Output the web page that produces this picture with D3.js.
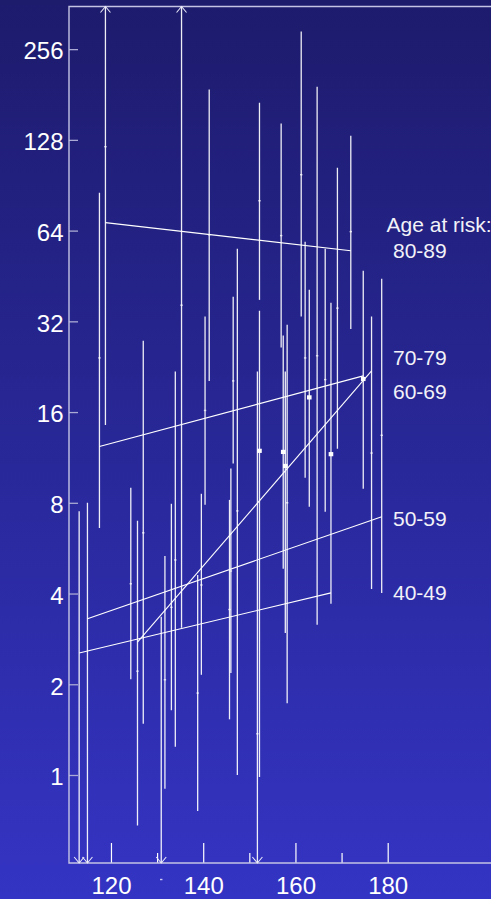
<!DOCTYPE html>
<html><head><meta charset="utf-8">
<script src="https://cdn.jsdelivr.net/npm/d3@7"></script>
<style>html,body{margin:0;padding:0;overflow:hidden;background:#2a2a9a}</style>
</head><body>
<svg id="chart" width="491" height="899"></svg>
<script>
// ---- data ----
const barX    = [113.1,114.9,117.5,118.8,124.3,125.75,127.0,130.9,131.7,133.1,133.95,135.3,138.8,139.6,140.4,141.3,145.7,146.0,146.5,147.4,151.75,152.2,152.2,156.9,157.35,157.8,158.2,161.25,162.1,163.0,164.7,166.45,167.7,169.1,172.0,174.7,176.5,178.7];
const barLow  = [0.3,0.3,6.6,14.5,2.08,0.68,1.48,0.06,0.9,1.64,1.24,3.08,0.76,2.15,7.88,20.3,1.53,2.18,10.8,1.0,0.09,37.7,0.985,26.2,4.83,2.96,1.73,33.2,9.68,7.76,3.15,7.47,3.70,12.1,30.2,8.9,4.14,4.02];
const barHigh = [7.5,8.0,85.5,1000,8.97,6.97,27.6,3.35,5.33,7.94,21.8,425,4.61,8.57,33.2,188,8.18,10.4,38.6,55.7,21.8,170,34.7,145,28.7,21.8,31.2,293,58.8,40.7,192,55.7,36.9,103.5,132,47.1,33.2,44.3];
const barEst  = [null,null,24.2,121.5,4.31,2.21,6.36,0.45,2.07,3.6,5.17,36.2,1.87,4.27,16.2,62,3.54,4.75,20.3,7.52,1.37,80.4,11.9,61.6,11.8,10.6,8.0,98.1,24.2,17.9,24.6,20.5,11.6,35.4,63.5,20.6,11.7,13.4];
const barLarge= [0,0,0,0,0,0,0,0,0,0,0,0,0,0,0,0,0,0,0,0,0,0,1,0,1,1,0,0,0,1,0,0,1,0,0,1,0,0];

const ageGroups = ["80-89","70-79","60-69","50-59","40-49"];
const fitX0 = [118.8,117.5,125.75,114.9,113.1];
const fitX1 = [172.0,174.7,176.5,178.7,167.7];
const fitY0 = [68.0,12.3,2.76,3.30,2.54];
const fitY1 = [54.9,21.1,21.9,7.19,4.02];

const legendTitle = "Age at risk:";
const yTicks = [1,2,4,8,16,32,64,128,256];
const xTicks = [120,140,160,180];
const xMinorTicks = [130,150,170];

// ---- drawing ----
const W = 491, H = 899;
const svg = d3.select("#chart");
const defs = svg.append("defs");
const grad = defs.append("linearGradient").attr("id","bg")
  .attr("x1",0).attr("y1",0).attr("x2",0).attr("y2",1);
grad.append("stop").attr("offset","0%").attr("stop-color","#1d1b6c");
grad.append("stop").attr("offset","100%").attr("stop-color","#3434c4");
svg.append("rect").attr("width",W).attr("height",H).attr("fill","url(#bg)");

const x = d3.scaleLinear().domain([110.9,202.4]).range([69,491]);
const y = d3.scaleLog().base(2).domain([Math.pow(2,-0.97),Math.pow(2,8.47)]).range([863,6.5]);
const [yMin,yMax] = y.domain();

const font = "'Liberation Sans', Arial, Helvetica, sans-serif";
const frameCol = "#c4c4e4";

// axes
const yAxis = d3.axisLeft(y).tickValues(yTicks).tickFormat(d3.format("d"))
  .tickSizeInner(-9).tickSizeOuter(0).tickPadding(5.5);
const gy = svg.append("g").attr("transform","translate(69,0)").call(yAxis);
gy.select(".domain").remove();
gy.selectAll(".tick line").attr("stroke","#aaaad4").attr("stroke-width",1.3);
gy.selectAll(".tick text").attr("fill","#ffffff").attr("font-size",24)
  .attr("font-family",font).attr("dy","0.41em");

const xAxis = d3.axisBottom(x).tickValues(xTicks).tickFormat(d3.format("d"))
  .tickSizeInner(-20).tickSizeOuter(0).tickPadding(14);
const gx = svg.append("g").attr("transform","translate(0,863)").call(xAxis);
gx.select(".domain").remove();
gx.selectAll(".tick line").attr("stroke","#ffffff").attr("stroke-width",1.2);
gx.selectAll(".tick text").attr("fill","#ffffff").attr("font-size",24).attr("font-family",font);

const xAxisMinor = d3.axisBottom(x).tickValues(xMinorTicks).tickFormat("")
  .tickSizeInner(-10).tickSizeOuter(0);
const gxm = svg.append("g").attr("transform","translate(0,863)").call(xAxisMinor);
gxm.select(".domain").remove();
gxm.selectAll(".tick line").attr("stroke","#ffffff").attr("stroke-width",1.2);

// frame
const frame = svg.append("g").attr("stroke",frameCol).attr("stroke-width",1.4).attr("fill","none");
frame.append("path").attr("d",`M${W+2},${y(yMax)}H${x.range()[0]}V${y(yMin)}H${W+2}`);

// bars
const bars = barX.map((v,i)=>({x:v,lo:barLow[i],hi:barHigh[i],est:barEst[i],large:barLarge[i]}));
const gb = svg.append("g");
gb.selectAll("line.bar").data(bars).join("line").attr("class","bar")
  .attr("x1",d=>x(d.x)).attr("x2",d=>x(d.x))
  .attr("y1",d=>y(Math.min(d.hi,yMax))).attr("y2",d=>y(Math.max(d.lo,yMin)))
  .attr("stroke","#ffffff").attr("stroke-opacity",0.92).attr("stroke-width",1.3);

// arrows for bars running off the scale
gb.selectAll("path.up").data(bars.filter(d=>d.hi>yMax)).join("path").attr("class","up")
  .attr("d",d=>{const cx=x(d.x),cy=y(yMax);return `M${cx-5},${cy+6}L${cx},${cy}L${cx+5},${cy+6}`;})
  .attr("fill","none").attr("stroke","#e8e8f8").attr("stroke-width",1.1);
gb.selectAll("path.down").data(bars.filter(d=>d.lo<yMin)).join("path").attr("class","down")
  .attr("d",d=>{const cx=x(d.x),cy=y(yMin);return `M${cx-5},${cy-6}L${cx},${cy}L${cx+5},${cy-6}`;})
  .attr("fill","none").attr("stroke","#e8e8f8").attr("stroke-width",1.1);

// point estimates
gb.selectAll("rect.est").data(bars.filter(d=>d.est!==null)).join("rect").attr("class","est")
  .attr("x",d=>x(d.x)-(d.large?2.3:1.2)).attr("y",d=>y(d.est)-(d.large?2.1:0.7))
  .attr("width",d=>d.large?4.6:2.4).attr("height",d=>d.large?4.2:1.4)
  .attr("fill","#ffffff").attr("fill-opacity",d=>d.large?1:0.75);

// fitted lines per age group
const fits = ageGroups.map((g,i)=>({g,x0:fitX0[i],x1:fitX1[i],y0:fitY0[i],y1:fitY1[i]}));
svg.append("g").selectAll("line").data(fits).join("line")
  .attr("x1",d=>x(d.x0)).attr("y1",d=>y(d.y0))
  .attr("x2",d=>x(d.x1)).attr("y2",d=>y(d.y1))
  .attr("stroke","#ffffff").attr("stroke-width",1.1);

// legend labels
const lab = svg.append("g").attr("fill","#f2f2f8").attr("font-family",font).attr("font-size",21);
lab.append("text").attr("x",386.5).attr("y",231.5).text(legendTitle);
const labelBaselines = [258.3,365,399.3,526,600];
lab.selectAll("text.grp").data(ageGroups).join("text").attr("class","grp")
  .attr("x",393).attr("y",(d,i)=>labelBaselines[i]).text(d=>d);
</script>
</body></html>
